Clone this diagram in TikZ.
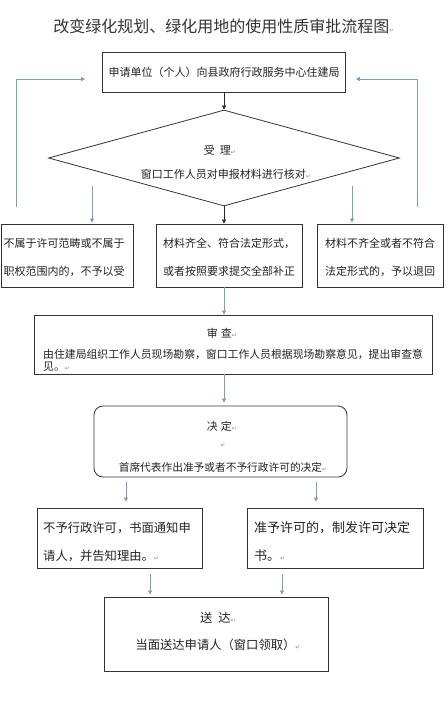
\documentclass[tikz,border=0pt]{standalone}
\usepackage{fontspec}
\usetikzlibrary{shapes.geometric,arrows.meta,calc}
\setmainfont{Noto Sans CJK SC}
\newfontfamily\dejavu{DejaVu Sans}
\definecolor{flowblue}{HTML}{7B9CC8}
\definecolor{retgray}{HTML}{8C8C8C}
\definecolor{txtcol}{HTML}{222222}
\newcommand{\retmark}{{\dejavu\fontsize{6}{6}\selectfont\textcolor{retgray}{↵}}}
\begin{document}
\begin{tikzpicture}[x=1pt,y=-1pt,
  box/.style={draw=black!80,line width=0.8pt,inner sep=0pt},
  txt/.style={inner sep=0pt,text=txtcol,font=\fontsize{11}{13}\selectfont},
  blk/.style={draw=black!85,line width=0.8pt,-{Triangle[width=4pt,length=4pt]}},
  blu/.style={draw=flowblue,line width=0.9pt,-{Triangle[width=4pt,length=4pt]}}]
\useasboundingbox (0,0) rectangle (447,706);

% title
\node[txt,font=\fontsize{16}{18}\selectfont,text=black!80] (title) at (224,26) {改变绿化规划、绿化用地的使用性质审批流程图\retmark};

% top box
\node[box,minimum width=243pt,minimum height=40pt] (b1) at (224,72) {};
\node[txt] (b1t) at (224,72) {申请单位（个人）向县政府行政服务中心住建局};

% diamond
\node[box,diamond,minimum width=351pt,minimum height=96pt] (dia) at (224,158) {};
\node[txt] (diat1) at (220,150) {受\hspace{5pt}理\retmark};
\node[txt] (diat2) at (226,174) {窗口工作人员对申报材料进行核对\retmark};

% three boxes
\node[box,minimum width=132pt,minimum height=63pt] (lbox) at (67,255.5) {};
\node[txt,align=center,font=\fontsize{11}{28}\selectfont] (lboxt) at (64,257) {不属于许可范畴或不属于\\职权范围内的，不予以受};
\node[box,minimum width=146pt,minimum height=63pt] (mbox) at (229,255.5) {};
\node[txt,align=center,font=\fontsize{11}{28}\selectfont] (mboxt) at (229,257) {材料齐全、符合法定形式，\\或者按照要求提交全部补正};
\node[box,minimum width=126pt,minimum height=63pt] (rbox) at (380,255.5) {};
\node[txt,align=center,font=\fontsize{11}{28}\selectfont] (rboxt) at (380,257) {材料不齐全或者不符合\\法定形式的，予以退回};

% review
\node[box,minimum width=398pt,minimum height=59pt] (rev) at (233,344.5) {};
\node[txt] (revt1) at (222,333) {审\hspace{3pt}查\retmark};
\node[txt,anchor=west,font=\fontsize{10.85}{13}\selectfont] (revt2) at (43,354) {由住建局组织工作人员现场勘察，窗口工作人员根据现场勘察意见，提出审查意};
\node[txt,anchor=west,font=\fontsize{10.85}{13}\selectfont] (revt3) at (43,367) {见。\retmark};

% decision
\node[box,rounded corners=9pt,minimum width=253pt,minimum height=71pt] (dec) at (220.5,441.5) {};
\node[txt] (dect1) at (222,426) {决\hspace{3pt}定\retmark};
\node[txt] (dect2) at (223,446) {\retmark};
\node[txt,font=\fontsize{10.7}{13}\selectfont] (dect3) at (223,467) {首席代表作出准予或者不予行政许可的决定\retmark};

% lower boxes
\node[box,minimum width=165pt,minimum height=60pt] (lbx) at (119.5,538) {};
\node[txt,anchor=west,font=\fontsize{12.3}{14}\selectfont] (lbxt1) at (43,528) {不予行政许可，书面通知申};
\node[txt,anchor=west,font=\fontsize{12.3}{14}\selectfont] (lbxt2) at (43,556) {请人，并告知理由。\retmark};
\node[box,minimum width=176pt,minimum height=60pt] (rbx) at (335,538) {};
\node[txt,anchor=west,font=\fontsize{13}{14}\selectfont] (rbxt1) at (254,528) {准予许可的，制发许可决定};
\node[txt,anchor=west,font=\fontsize{13}{14}\selectfont] (rbxt2) at (254,556) {书。\retmark};

% final
\node[box,minimum width=224pt,minimum height=74pt] (fin) at (216,634) {};
\node[txt,font=\fontsize{12.3}{14}\selectfont] (fint1) at (218,618) {送\hspace{6pt}达\retmark};
\node[txt,font=\fontsize{12.3}{14}\selectfont] (fint2) at (218,645) {当面送达申请人（窗口领取）\retmark};

% connectors
\draw[blk] (b1.south) -- (dia.north);
\draw[blk] (dia.south) -- (dia.south |- mbox.north);

\coordinate (lfa) at (16,207);
\coordinate (rfa) at (417,207);
\draw[blu] (lfa) |- ($(b1.west)+(-17,7)$);
\draw[blu] (rfa) |- ($(b1.east)+(10,7)$);

\coordinate (sla) at (92,186);
\coordinate (sra) at (352,186);
\draw[blu] (sla) -- ($(sla |- lbox.north)+(0,-1)$);
\draw[blu] (sra) -- ($(sra |- rbox.north)+(0,-1)$);

\draw[blu] (dia.south |- mbox.south) -- (dia.south |- rev.north);
\draw[blu] (dia.south |- rev.south) -- ($(dia.south |- dec.north)+(0,-3)$);

\coordinate (dl) at (126,0);
\coordinate (dr) at (316,0);
\draw[blu] ($(dec.south -| dl)+(0,5)$) -- ($(lbx.north -| dl)+(0,-6)$);
\draw[blu] ($(dec.south -| dr)+(0,5)$) -- ($(rbx.north -| dr)+(0,-6)$);

\coordinate (fl) at (150,0);
\coordinate (fr) at (282,0);
\draw[blu] ($(lbx.south -| fl)+(0,6)$) -- ($(fin.north -| fl)+(0,-2)$);
\draw[blu] ($(rbx.south -| fr)+(0,6)$) -- ($(fin.north -| fr)+(0,-2)$);
\end{tikzpicture}
\end{document}
